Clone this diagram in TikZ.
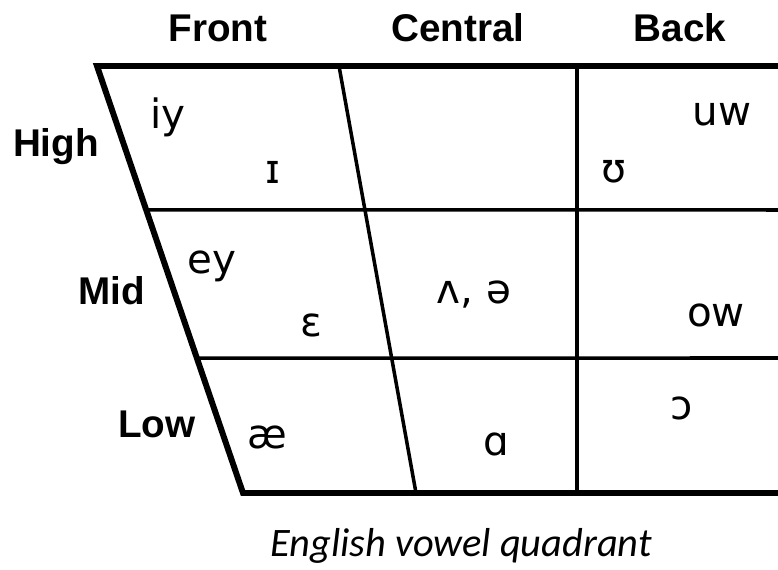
\documentclass[tikz,border=0pt]{standalone}
\usepackage{fontspec}
\setmainfont{Liberation Sans}
\newfontfamily\ipafont{DejaVu Sans}
\newfontfamily\capfont{Carlito}
\usetikzlibrary{calc}

\tikzset{
  axislabel/.style={font=\bfseries\fontsize{22}{26}\selectfont, anchor=base},
  vowel/.style={font=\ipafont\fontsize{23}{27}\selectfont},
  outer/.style={line width=3.4pt, line join=miter},
  inner/.style={line width=2pt}
}

\begin{document}
\begin{tikzpicture}[x=0.02cm, y=-0.02cm]
  \useasboundingbox (0,0) rectangle (778,570);

  % corners of the quadrant
  \coordinate (TL) at (97,66);
  \coordinate (TR) at (778,66);
  \coordinate (BL) at (243,493);
  \coordinate (BR) at (778,493);
  \coordinate (CT) at (339,66);
  \coordinate (CB) at (416,493);
  \coordinate (KT) at (577,66);
  \coordinate (KB) at (577,493);
  \coordinate (HL) at ($(TL)!0.337!(BL)$);
  \coordinate (HR) at (778,210);
  \coordinate (ML) at ($(TL)!0.684!(BL)$);
  \coordinate (MR) at (778,358);

  % frame
  \draw[outer] (TR) -- (TL) -- (BL) -- (BR);
  \draw[inner] (HL) -- (HR);
  \draw[inner] (ML) -- (MR);
  \draw[inner] (CT) -- (CB);
  \draw[inner] (KT) -- (KB);

  % column and row labels
  \node[axislabel] (front) at (218,42) {Front};
  \node[axislabel] (central) at (458,42) {Central};
  \node[axislabel] (back) at (680,42) {Back};
  \node[axislabel] (high) at (56,157) {High};
  \node[axislabel] (mid) at (112,305) {Mid};
  \node[axislabel] (low) at (157,438) {Low};

  % vowels
  \node[vowel] (iy) at (168,117) {iy};
  \node[vowel] (ih) at (273,172) {ɪ};
  \node[vowel] (uw) at (722,114) {uw};
  \node[vowel] (uh) at (614,172) {ʊ};
  \node[vowel] (ey) at (212,266) {ey};
  \node[vowel] (eh) at (311,325) {ɛ};
  \node[vowel] (ah) at (474,295) {ʌ, ə};
  \node[vowel] (ow) at (716,315) {ow};
  \node[vowel] (ae) at (267,437) {æ};
  \node[vowel] (aa) at (496,444) {ɑ};
  \node[vowel] (ao) at (682,408) {ɔ};

  % caption
  \node[font=\capfont\itshape\fontsize{23}{27}\selectfont, anchor=base] (caption) at (461,557) {English vowel quadrant};
\end{tikzpicture}
\end{document}
